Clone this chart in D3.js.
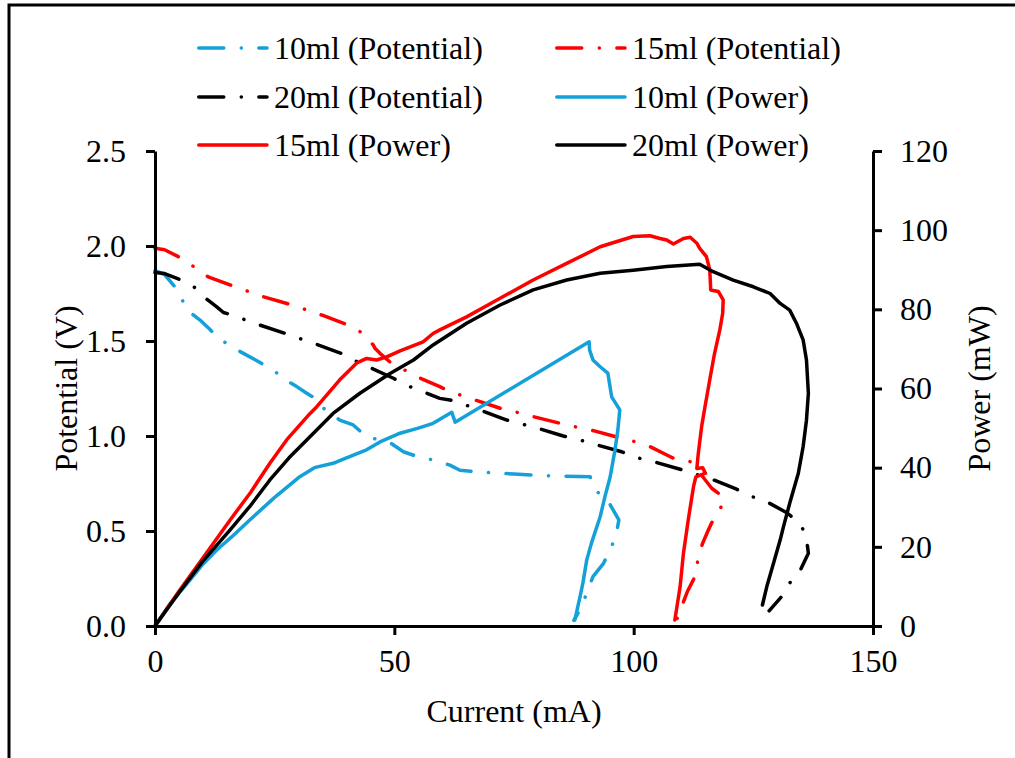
<!DOCTYPE html>
<html>
<head>
<meta charset="utf-8">
<script src="https://cdn.jsdelivr.net/npm/d3@7"></script>
<style>
  body { margin: 0; background: #fff; }
  svg { display: block; }
  text { font-family: "Liberation Serif", "Times New Roman", serif; fill: #000; }
  .axis path, .axis line { stroke: #000; stroke-width: 3; }
  .axis text { font-size: 32px; font-family: "Liberation Serif", serif; }
</style>
</head>
<body>
<div id="chart"></div>
<script>
// [current mA, potential V]
let pot10 = [[0,1.87],[2,1.85],[4,1.79],[5.2,1.74],[6.8,1.66],[9.4,1.61],[11.5,1.56],[13.6,1.505],[15.7,1.48],[17.8,1.444],[21,1.40],[24.7,1.347],[27,1.30],[29.6,1.26],[31.7,1.225],[33,1.205],[34.5,1.154],[35.9,1.137],[38.6,1.084],[41.4,1.058],[44.2,0.996],[47,0.979],[49.4,0.96],[51.9,0.917],[55,0.89],[58.1,0.874],[61.6,0.847],[63.7,0.82],[68,0.81],[75,0.80],[82.5,0.79],[90.9,0.786],[92,0.712],[94.3,0.674],[96.9,0.558],[96.5,0.50],[95.4,0.417],[93.7,0.33],[91.5,0.26],[90.2,0.174],[89.1,0.10],[87.5,0.03]];
let pot15 = [[0,1.988],[2,1.98],[5.6,1.935],[8.4,1.886],[11.1,1.838],[16.7,1.786],[19.6,1.76],[22.6,1.733],[28.6,1.69],[31.7,1.663],[34.8,1.637],[40.3,1.584],[43.2,1.544],[45.6,1.479],[46,1.46],[47,1.435],[49.4,1.383],[52.4,1.344],[55.4,1.304],[59.5,1.26],[60.9,1.242],[63.7,1.216],[66.8,1.19],[72.1,1.146],[75.9,1.123],[79,1.102],[84.6,1.067],[87.7,1.049],[91.6,1.028],[95.7,1.0],[100.3,0.97],[103.4,0.944],[108.3,0.883],[111.8,0.865],[114,0.80],[116.3,0.725],[118.9,0.675],[118.1,0.616],[116.6,0.558],[115.6,0.505],[114.4,0.435],[113.5,0.365],[113.2,0.312],[112.8,0.26],[111.2,0.18],[110,0.10],[108.6,0.01]];
let pot20 = [[0,1.86],[2,1.855],[5.6,1.82],[8.4,1.78],[10.8,1.72],[12.9,1.68],[14.3,1.65],[15.7,1.64],[18.3,1.616],[21.9,1.584],[27.2,1.54],[30.1,1.514],[33.1,1.488],[38.6,1.438],[41.8,1.396],[44.9,1.36],[49.8,1.304],[52.9,1.263],[56,1.233],[59.5,1.198],[61.6,1.19],[64.9,1.163],[67.9,1.137],[73.5,1.084],[76.8,1.062],[80.1,1.04],[85.3,1.0],[88.8,0.979],[92.3,0.953],[97.5,0.917],[100.7,0.886],[104.1,0.865],[109.7,0.825],[112.8,0.8],[115.9,0.777],[121.5,0.72],[124.4,0.684],[127.8,0.654],[132,0.596],[134.7,0.54],[136,0.479],[136.5,0.383],[134.9,0.298],[133,0.242],[130.9,0.154],[128.3,0.08]];

// [current mA, power mW]
let pow10 = [[0,0],[3,5.4],[7.3,11.6],[10,15.6],[12.9,19.2],[16,22.5],[19.8,26.8],[25,32.5],[30,37.5],[33.3,40],[37.2,41.1],[40,42.5],[44.2,44.5],[47,46.5],[51.2,48.7],[55,50],[58.1,51.2],[62,54],[62.7,51.5],[90.7,71.8],[90.8,69.7],[91.5,67.2],[93,65.5],[94.6,63.9],[95.4,57.9],[97.1,54.6],[96.7,49.5],[96.1,44.5],[95.1,37.7],[94,32.7],[93,27.6],[91.2,21],[90.2,16.7],[89.4,10.9],[88.8,7.4],[87.7,1.5]];
let pow15 = [[0,0],[5,8.8],[10,17.2],[15.7,26.8],[20,33.8],[24,41.1],[27.5,47],[32.4,53.7],[33.8,55.4],[38.6,62.2],[42.1,66.4],[44.2,67.6],[46.3,67.2],[48.4,68],[51.2,69.5],[56,71.8],[58.1,73.9],[59.5,74.8],[65.1,78.1],[72.1,82.8],[79,87.4],[86,91.6],[93,95.8],[99.9,98.4],[103.4,98.6],[105.5,97.9],[106.9,97.5],[108.3,96.5],[110.4,97.9],[111.8,98.2],[113.2,96.7],[113.8,95.4],[115.2,93.3],[115.9,90],[116.1,84.9],[117.7,84.5],[118.7,82.4],[118.6,79],[118,74.8],[116.9,68.9],[115.9,62.2],[114.9,55.4],[114.2,50.4],[113.5,43.6],[113.2,39.8],[114.4,40],[115,38.6],[113,37.7],[112.5,35.2],[111.4,26.8],[110.4,18.4],[109.7,9.9],[108.6,1.5]];
let pow20 = [[0,0],[5,8.4],[10,16.4],[15.7,24.3],[20,30.5],[24,36.9],[28,42.5],[31.7,47],[37.2,53.7],[42.8,58.8],[49.1,63.8],[54,67.2],[58.1,71],[65.1,76.5],[72.1,81.1],[79,84.9],[86,87.4],[93,89.1],[99.9,89.9],[106.9,90.8],[113.8,91.4],[116.6,89.5],[120.8,87.4],[125,85.7],[128.5,84],[130.6,81.5],[132.6,79.8],[134,76.5],[135.4,72.3],[136.1,67.2],[136.5,58.8],[136.1,52],[135.4,45.3],[134.4,38.6],[132.6,31],[131.3,25.1],[130.6,21.7],[129.2,15.8],[127.8,9.9],[126.9,5.3]];

let xTicks = [0, 50, 100, 150];
let yTicks = [0, 0.5, 1.0, 1.5, 2.0, 2.5];
let y2Ticks = [0, 20, 40, 60, 80, 100, 120];

let blue = "#14a0d9", red = "#ff0000", black = "#000000";
let dashDot = "25,17.5,0.1,17.5";

let seriesList = [
    {name: "10ml (Potential)", data: pot10, color: blue, axis: "left", dash: true},
    {name: "15ml (Potential)", data: pot15, color: red, axis: "left", dash: true},
    {name: "20ml (Potential)", data: pot20, color: black, axis: "left", dash: true},
    {name: "10ml (Power)", data: pow10, color: blue, axis: "right", dash: false},
    {name: "15ml (Power)", data: pow15, color: red, axis: "right", dash: false},
    {name: "20ml (Power)", data: pow20, color: black, axis: "right", dash: false}
];

let width = 1015, height = 758;
let margin = {top: 151, right: 142, bottom: 132, left: 155},
    plotW = width - margin.left - margin.right,
    plotH = height - margin.top - margin.bottom;

let svg = d3.select("#chart").append("svg")
    .attr("width", width)
    .attr("height", height);

// outer frame (cut at right and bottom)
svg.append("path")
    .attr("d", "M9," + (height + 5) + "V5H" + (width + 5))
    .attr("fill", "none")
    .attr("stroke", "#000")
    .attr("stroke-width", 3);

let g = svg.append("g")
    .attr("transform", "translate(" + margin.left + "," + margin.top + ")");

let xScale = d3.scaleLinear().domain([0, 150]).range([0, plotW]);
let yScale = d3.scaleLinear().domain([0, 2.5]).range([plotH, 0]);
let y2Scale = d3.scaleLinear().domain([0, 120]).range([plotH, 0]);

let line = function (s) {
    let ys = s.axis === "left" ? yScale : y2Scale;
    return d3.line()
        .x(function (d) { return xScale(d[0]); })
        .y(function (d) { return ys(d[1]); })(s.data);
};

g.selectAll(".series")
    .data(seriesList)
    .enter().append("path")
    .attr("class", "series")
    .attr("d", line)
    .attr("fill", "none")
    .attr("stroke", function (d) { return d.color; })
    .attr("stroke-width", 3.5)
    .attr("stroke-linecap", "round")
    .attr("stroke-linejoin", "round")
    .attr("stroke-dasharray", function (d) { return d.dash ? dashDot : null; });

// axes
g.append("g")
    .attr("class", "axis")
    .attr("transform", "translate(0," + plotH + ")")
    .call(d3.axisBottom(xScale).tickValues(xTicks).tickSize(9).tickSizeOuter(0).tickPadding(14).tickFormat(d3.format("d")));

g.append("g")
    .attr("class", "axis")
    .call(d3.axisLeft(yScale).tickValues(yTicks).tickSize(9).tickSizeOuter(0).tickPadding(20).tickFormat(d3.format(".1f")));

g.append("g")
    .attr("class", "axis")
    .attr("transform", "translate(" + plotW + ",0)")
    .call(d3.axisRight(y2Scale).tickValues(y2Ticks).tickSize(9).tickSizeOuter(0).tickPadding(18).tickFormat(d3.format("d")));

// axis titles
svg.append("text")
    .attr("x", margin.left + plotW / 2)
    .attr("y", 722)
    .attr("text-anchor", "middle")
    .style("font-size", "32px")
    .text("Current (mA)");

svg.append("text")
    .attr("transform", "translate(77," + (margin.top + plotH / 2) + ") rotate(-90)")
    .attr("text-anchor", "middle")
    .style("font-size", "32px")
    .text("Potential (V)");

svg.append("text")
    .attr("transform", "translate(990," + (margin.top + plotH / 2) + ") rotate(-90)")
    .attr("text-anchor", "middle")
    .style("font-size", "32px")
    .text("Power (mW)");

// legend, two columns by three rows
let legendCols = [197, 555], legendRows = [48, 97, 145];
let legend = svg.selectAll(".legend")
    .data(seriesList)
    .enter().append("g")
    .attr("class", "legend")
    .attr("transform", function (d, i) {
        return "translate(" + legendCols[i % 2] + "," + legendRows[Math.floor(i / 2)] + ")";
    });

legend.append("line")
    .attr("x1", 1.75)
    .attr("x2", 70)
    .attr("y1", 0)
    .attr("y2", 0)
    .attr("stroke", function (d) { return d.color; })
    .attr("stroke-width", 3.5)
    .attr("stroke-linecap", "round")
    .attr("stroke-dasharray", function (d) { return d.dash ? dashDot : null; });

legend.append("text")
    .attr("x", 77)
    .attr("y", 0)
    .attr("dy", "0.35em")
    .style("font-size", "32px")
    .text(function (d) { return d.name; });
</script>
</body>
</html>
